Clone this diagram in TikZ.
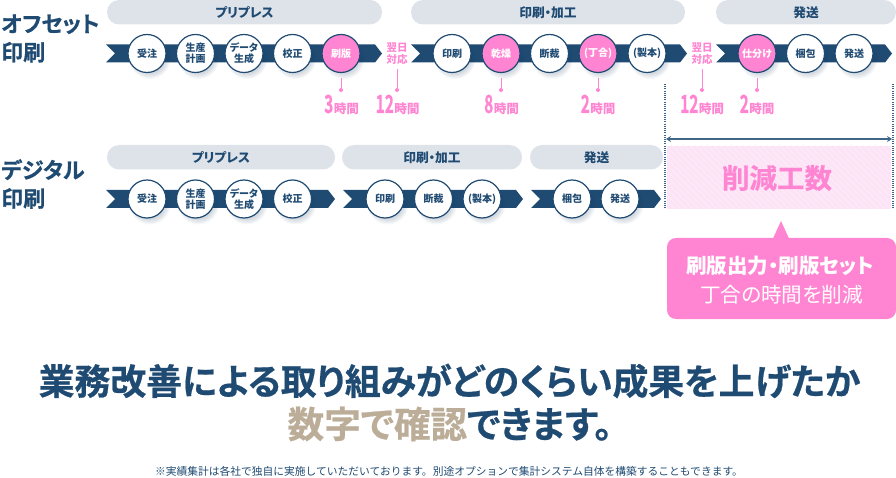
\documentclass[tikz,border=0pt]{standalone}
\usepackage{fontspec}
\setmainfont{Noto Sans CJK JP}[RawFeature=+palt]
\newfontfamily\jpfull{Noto Sans CJK JP}
\newfontfamily\jpheavy{Noto Sans CJK JP Bold}[RawFeature=+palt,FakeBold=0.6]
\usetikzlibrary{arrows.meta}
\definecolor{navy}{HTML}{1F4A72}
\definecolor{pillc}{HTML}{DEE3EA}
\definecolor{pinkc}{HTML}{FF85D2}
\definecolor{pinkpale}{HTML}{FCE3F6}
\definecolor{pinkline}{HTML}{FDEDF9}
\definecolor{tanc}{HTML}{BBAD97}
\definecolor{dotc}{HTML}{3F648C}
\newcommand\fsz[2]{\fontsize{#1}{#2}\selectfont}
\tikzset{
  x=1pt,y=-1pt,
  pillbox/.style={fill=pillc,rounded corners=12pt,draw=none},
  pilltext/.style={text=navy,font=\bfseries\fsz{12.7}{15},inner sep=0pt},
  ribbonshape/.style={fill=navy,draw=none},
  stepwhite/.style={circle,minimum size=38pt,inner sep=0pt,align=center,draw=navy,line width=1.2pt,fill=white,text=navy,font=\bfseries\fsz{10}{11}},
  steppink/.style={stepwhite,fill=pinkc,text=white},
  nextday/.style={text=pinkc,font=\bfseries\fsz{10.5}{12},align=center,inner sep=0pt},
  timelabel/.style={text=pinkc,font=\jpheavy,inner sep=0pt,anchor=base},
  tick/.style={draw=pinkc,line width=.9pt},
  tickdot/.style={circle,fill=pinkc,minimum size=4pt,inner sep=0pt},
  boundary/.style={draw=dotc,line width=1.1pt,dash pattern=on 1.1pt off 1.1pt},
  rowtitle/.style={text=navy,font=\jpheavy\fsz{22}{28.5},align=left,anchor=west,inner sep=0pt},
}
\newcommand\ribbon[3]{\path[ribbonshape] (#1,#3-9) -- (#2-7,#3-9) -- (#2,#3) -- (#2-7,#3+9) -- (#1,#3+9) -- (#1+9,#3) -- cycle;}
\newcommand\pill[5]{\path[pillbox] (#2,#4) rectangle (#3,#4+24.5);\node[pilltext] (#1) at ({(#2+#3)/2},#4+12.5) {#5};}
\newcommand\stepc[5][stepwhite]{%
  \foreach \k in {0,...,6}{\fill[navy!80!black,opacity=.045] (#3+3,#4+5) circle ({20.5-\k*1.3});}
  \node[#1] (#2) at (#3,#4) {#5};}
\newcommand\hours[3]{% name, x, digit
  \node[timelabel] (#1) at (#2,113) {\fsz{25}{25}\scalebox{.62}[1]{#3}\hspace{.5pt}\fsz{12.5}{13}時間};}
\newcommand\tickline[3]{% name, x, y0
  \coordinate (#1a) at (#2,#3);\node[tickdot] (#1b) at (#2,90) {};\draw[tick] (#1a) -- (#1b);}
\begin{document}
\begin{tikzpicture}
\useasboundingbox (0,0) rectangle (896,478);
% titles
\node[rowtitle] (title1) at (1,38.5) {オフセット\\印刷};
\node[rowtitle] (title2) at (1,184) {デジタル\\印刷};
% row 1 pills
\begin{scope}
\clip (0,0) rectangle (896,478);
\pill{p1}{107}{382}{0}{プリプレス}
\pill{p2}{411}{685}{0}{印刷・加工}
\pill{p3}{716}{896}{0}{発送}
\end{scope}
% row 1 ribbons
\ribbon{106}{382}{53.5}
\ribbon{411}{687}{53.5}
\ribbon{716}{892}{53.5}
\stepc{a1}{147}{53.5}{受注}
\stepc{a2}{195.5}{53.5}{生産\\計画}
\stepc{a3}{244}{53.5}{データ\\生成}
\stepc{a4}{292.5}{53.5}{校正}
\stepc[steppink]{a5}{341}{53.5}{刷版}
\stepc{b1}{452}{53.5}{印刷}
\stepc[steppink]{b2}{501}{53.5}{乾燥}
\stepc{b3}{549.5}{53.5}{断裁}
\stepc[steppink]{b4}{598}{53.5}{(丁合)}
\stepc{b5}{647}{53.5}{(製本)}
\stepc[steppink]{c1}{757}{53.5}{仕分け}
\stepc{c2}{805.5}{53.5}{梱包}
\stepc{c3}{854}{53.5}{発送}
% next-day labels
\node[nextday] (n1) at (397,53.5) {翌日\\対応};
\node[nextday] (n2) at (702,53.5) {翌日\\対応};
% ticks and hours
\tickline{k1}{341}{78}
\tickline{k2}{397}{69}
\tickline{k3}{501}{78}
\tickline{k4}{598}{78}
\tickline{k5}{702}{69}
\tickline{k6}{757}{78}
\hours{h1}{341.5}{3}
\hours{h2}{397.5}{12}
\hours{h3}{501.5}{8}
\hours{h4}{598}{2}
\hours{h5}{702}{12}
\hours{h6}{757}{2}
% row 2
\pill{q1}{107}{335}{145}{プリプレス}
\pill{q2}{342}{522}{145}{印刷・加工}
\pill{q3}{530}{663}{145}{発送}
\ribbon{106}{335}{199}
\ribbon{343}{523}{199}
\ribbon{531}{661}{199}
\stepc{d1}{147}{199}{受注}
\stepc{d2}{195.5}{199}{生産\\計画}
\stepc{d3}{244}{199}{データ\\生成}
\stepc{d4}{292.5}{199}{校正}
\stepc{e1}{385}{199}{印刷}
\stepc{e2}{433.5}{199}{断裁}
\stepc{e3}{482}{199}{(製本)}
\stepc{f1}{572}{199}{梱包}
\stepc{f2}{620}{199}{発送}
% reduction area
\begin{scope}
\clip (666.5,146) rectangle (891,209);
\fill[pinkpale] (666.5,146) rectangle (891,209);
\foreach \i in {0,...,60}{\draw[pinkline,line width=.7pt] (600+\i*6,140) -- (600+\i*6+75,215);}
\end{scope}
\coordinate (la) at (665,84);\coordinate (lb) at (665,209);
\coordinate (ra) at (893,84);\coordinate (rb) at (893,209);
\draw[boundary] (la) -- (lb);
\draw[boundary] (ra) -- (rb);
\coordinate (wl) at (666,139);\coordinate (wr) at (892,139);
\draw[navy!85!white,line width=1.1pt,{Stealth[length=5pt,width=6pt]}-{Stealth[length=5pt,width=6pt]}] (wl) -- (wr);
\node[text=pinkc,font=\jpheavy\fsz{27.5}{32},inner sep=0pt] (cut) at (777,178) {削減工数};
% callout
\fill[pinkc] (773,238.5) -- (781,221) -- (789,238.5) -- cycle;
\fill[pinkc,rounded corners=9pt] (667,238) rectangle (896,319);
\node[text=white,font=\bfseries\fsz{20.5}{22},inner sep=0pt] (co1) at (780,265.5) {刷版出力・刷版セット};
\node[text=white,font=\fsz{20.6}{22},inner sep=0pt] (co2) at (781.5,295) {丁合の時間を削減};
% headline
\node[text=navy,font=\jpheavy\fsz{35.85}{38},inner sep=0pt] (head1) at (449.5,381) {業務改善による取り組みがどのくらい成果を上げたか};
\node[font=\jpheavy\fsz{36.6}{38},inner sep=0pt,text=navy] (head2) at (450,424) {\textcolor{tanc}{数字で確認}できます。};
\node[text=navy,font=\jpfull\fsz{10.76}{12},inner sep=0pt] (foot) at (449,471) {※実績集計は各社で独自に実施していただいております。別途オプションで集計システム自体を構築することもできます。};
\end{tikzpicture}
\end{document}
